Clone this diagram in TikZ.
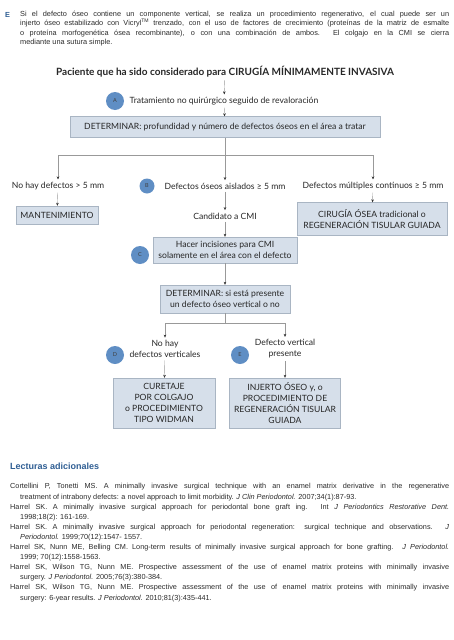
\documentclass[tikz,border=0pt]{standalone}
\usepackage{fontspec}
\setmainfont{Liberation Sans}
\newfontfamily\gill{Lato}
\usetikzlibrary{arrows.meta,positioning}
\definecolor{boxfill}{HTML}{D6DFEA}
\definecolor{boxline}{HTML}{A9B5C3}
\definecolor{dotblue}{HTML}{5F8EC4}
\definecolor{headblue}{HTML}{2F5E93}
\definecolor{bodygray}{HTML}{2A2A2A}
\begin{document}
\begin{tikzpicture}[x=1pt,y=-1pt,
  flow/.style={font=\gill\fontsize{8.6}{11}\selectfont, align=center, inner sep=2.5pt, text=black!85},
  tinted/.style={flow, draw=boxline, fill=boxfill, line width=0.4pt, inner sep=0pt},
  dot/.style={circle, fill=dotblue, minimum size=18pt, inner sep=0pt,
    font=\gill\fontsize{5.5}{5.5}\selectfont, text=black!75},
  link/.style={draw=black!40, line width=0.4pt, -{Stealth[length=3pt,width=2.6pt,color=black!80]}},
  plain/.style={draw=black!40, line width=0.4pt},
  prose/.style={font=\fontsize{7.35}{9.6}\selectfont, text=bodygray, inner sep=0pt, align=justify}]
\useasboundingbox (0,0) rectangle (453,640);
\node[font=\bfseries\fontsize{7.35}{9.6}\selectfont, text=headblue, anchor=base west, inner sep=0pt] (letterE) at (5,17) {E};
\node[prose, text width=429pt, anchor=north west] (intro) at (20,10.5)
  {Si el defecto óseo contiene un componente vertical, se realiza un procedimiento regenerativo, el cual puede ser un\linebreak
   injerto óseo estabilizado con Vicryl\textsuperscript{TM} trenzado, con el uso de factores de crecimiento (proteínas de la matriz de esmalte\linebreak
   o proteína morfogenética ósea recombinante), o con una combinación de ambos. El colgajo en la CMI se cierra\linebreak
   mediante una sutura simple.};

\node[flow, font=\gill\bfseries\fontsize{10}{12}\selectfont] (title) at (225,72)
  {Paciente que ha sido considerado para CIRUGÍA MÍNIMAMENTE INVASIVA};
\node[flow] (revalor) at (224,101) {Tratamiento no quirúrgico seguido de revaloración};
\node[dot] (dotA) at (115,101) {A};
\node[tinted, minimum width=310pt, minimum height=21pt] (det1) at (225,127)
  {DETERMINAR: profundidad y número de defectos óseos en el área a tratar};

\node[flow] (nodef) at (58,186) {No hay defectos > 5 mm};
\node[flow] (aislados) at (225,186) {Defectos óseos aislados ≥ 5 mm};
\node[dot, minimum size=15pt] (dotB) at (147,186) {B};
\node[flow] (multi) at (373,186) {Defectos múltiples continuos ≥ 5 mm};

\node[tinted, minimum width=82pt, minimum height=18pt] (mant) at (57,215) {MANTENIMIENTO};
\node[flow] (cand) at (225,216) {Candidato a CMI};
\node[tinted, minimum width=150pt, minimum height=33pt] (osea) at (372,219)
  {CIRUGÍA ÓSEA tradicional o\\REGENERACIÓN TISULAR GUIADA};

\node[tinted, minimum width=144pt, minimum height=26pt] (incis) at (225,250)
  {Hacer incisiones para CMI\\solamente en el área con el defecto};
\node[dot] (dotC) at (140,255) {C};
\node[tinted, minimum width=130pt, minimum height=28pt] (det2) at (225,299)
  {DETERMINAR: si está presente\\un defecto óseo vertical o no};

\node[flow] (nover) at (165,349) {No hay\\defectos verticales};
\node[dot] (dotD) at (115,355) {D};
\node[flow] (vert) at (285,349) {Defecto vertical\\presente};
\node[dot] (dotE) at (240,355) {E};

\node[tinted, minimum width=102pt, minimum height=50pt] (cur) at (164,403)
  {CURETAJE\\POR COLGAJO\\o PROCEDIMIENTO\\TIPO WIDMAN};
\node[tinted, minimum width=111pt, minimum height=50pt] (inj) at (285,403)
  {INJERTO ÓSEO y, o\\PROCEDIMIENTO DE\\REGENERACIÓN TISULAR\\GUIADA};

\draw[link] (title) -- (revalor);
\draw[link] (revalor) -- (det1);
\draw[plain] (det1.south) -- ++(0,17) coordinate (split);
\draw[link] (split) -| (nodef.north);
\draw[link] (split) -- (aislados.north);
\draw[link] (split) -| (multi.north);
\draw[link] (nodef) -- (mant);
\draw[link] (aislados) -- (cand);
\draw[link] (multi) -- (osea);
\draw[link] (cand) -- (incis);
\draw[link] (incis) -- (det2);
\draw[plain] (det2.south) -- ++(0,10) coordinate (split2);
\draw[link] (split2) -| (nover.north);
\draw[link] (split2) -| (vert.north);
\draw[link] (nover) -- (cur);
\draw[link] (vert) -- (inj);

\node[font=\bfseries\fontsize{9}{10}\selectfont, text=headblue, anchor=base west, inner sep=0pt] (lecturas) at (10,469) {Lecturas adicionales};
\node[prose, font=\fontsize{7.3}{10.1}\selectfont, text width=439pt, anchor=north west] (refs) at (10,483.5)
  {\everypar{\hangindent=10pt\hangafter=1}\hangindent=10pt\hangafter=1
   Cortellini P, Tonetti MS. A minimally invasive surgical technique with an enamel matrix derivative in the regenerative\linebreak
   treatment of intrabony defects: a novel approach to limit morbidity. \textit{J Clin Periodontol.} 2007;34(1):87-93.\par
   Harrel SK. A minimally invasive surgical approach for periodontal bone graft ing. Int \textit{J Periodontics Restorative Dent.}\linebreak
   1998;18(2): 161-169.\par
   Harrel SK. A minimally invasive surgical approach for periodontal regeneration: surgical technique and observations. \textit{J}\linebreak
   \textit{Periodontol.} 1999;70(12):1547- 1557.\par
   Harrel SK, Nunn ME, Belling CM. Long-term results of minimally invasive surgical approach for bone grafting. \textit{J Periodontol.}\linebreak
   1999; 70(12):1558-1563.\par
   Harrel SK, Wilson TG, Nunn ME. Prospective assessment of the use of enamel matrix proteins with minimally invasive\linebreak
   surgery. \textit{J Periodontol.} 2005;76(3):380-384.\par
   Harrel SK, Wilson TG, Nunn ME. Prospective assessment of the use of enamel matrix proteins with minimally invasive\linebreak
   surgery: 6-year results. \textit{J Periodontol.} 2010;81(3):435-441.\par};
\end{tikzpicture}
\end{document}
